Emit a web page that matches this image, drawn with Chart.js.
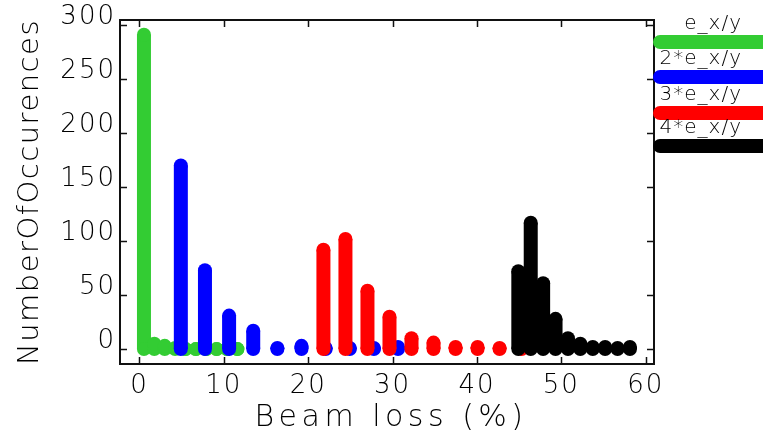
<!DOCTYPE html>
<html>
<head>
<title>Beam loss</title>
<script src="https://cdn.jsdelivr.net/npm/chart.js"></script>
<style>
  html, body { margin: 0; padding: 0; background: #fff; }
</style>
</head>
<body>
<canvas id="lossChart" width="763" height="438"></canvas>
<script>
// bin centres (beam loss, %) and number of occurences per emittance setting
const binsE1 = [0.53, 1.76, 2.99, 4.22, 5.45, 6.68, 7.91, 9.14, 10.37, 11.60];
const countsE1 = [291, 5, 3, 1, 0, 0, 0, 0, 0, 0];

const binsE2 = [4.90, 7.76, 10.62, 13.48, 16.34, 19.20, 22.06, 24.92, 27.78, 30.64];
const countsE2 = [170, 73, 31, 17, 1, 3, 1, 1, 1, 2];

const binsE3 = [21.80, 24.41, 27.02, 29.63, 32.24, 34.85, 37.46, 40.07, 42.68, 45.29];
const countsE3 = [92, 102, 54, 30, 10, 6, 2, 2, 1, 1];

const binsE4 = [44.90, 46.37, 47.84, 49.31, 50.78, 52.25, 53.72, 55.19, 56.66, 58.13];
const countsE4 = [72, 117, 61, 28, 10, 5, 2, 2, 1, 2];

const seriesLabels = ['e_x/y', '2*e_x/y', '3*e_x/y', '4*e_x/y'];
const seriesColors = ['#33cc33', '#0000ff', '#ff0000', '#000000'];

const xTicks = [0, 10, 20, 30, 40, 50, 60];
const yTicks = [0, 50, 100, 150, 200, 250, 300];
const xTitle = 'Beam loss (%)';
const yTitle = 'NumberOfOccurences';

const FONT = "'DejaVu Sans', sans-serif";

// every bin becomes a vertical stroke from 0 up to its count, then a gap
function impulses(bins, counts) {
  const pts = [];
  bins.forEach((b, i) => {
    pts.push({x: b, y: 0}, {x: b, y: counts[i]}, {x: b, y: null});
  });
  return pts;
}

function series(i, bins, counts) {
  const c = seriesColors[i];
  return {
    label: seriesLabels[i],
    data: impulses(bins, counts),
    borderColor: c,
    backgroundColor: c,
    borderWidth: 14,
    borderCapStyle: 'butt',
    pointRadius: 7,
    pointHoverRadius: 7,
    pointBorderWidth: 0,
    pointBackgroundColor: c,
    tension: 0,
    fill: false,
    spanGaps: false,
    order: 4 - i   // later settings are drawn over earlier ones
  };
}

// box around the plot with inward ticks on all four sides
const framePlugin = {
  id: 'frame',
  beforeDraw(chart) {
    chart.ctx.letterSpacing = '2px';
  },
  beforeDatasetsDraw(chart) {
    const {ctx, chartArea: a, scales} = chart;
    ctx.save();
    ctx.strokeStyle = '#111';
    ctx.lineWidth = 2;
    ctx.strokeRect(a.left, a.top, a.right - a.left, a.bottom - a.top);
    ctx.lineWidth = 1.5;
    ctx.beginPath();
    xTicks.forEach(v => {
      const px = Math.round(scales.x.getPixelForValue(v)) + 0.5;
      ctx.moveTo(px, a.bottom); ctx.lineTo(px, a.bottom - 7);
      ctx.moveTo(px, a.top); ctx.lineTo(px, a.top + 7);
    });
    yTicks.forEach(v => {
      const py = Math.round(scales.y.getPixelForValue(v)) + 0.5;
      ctx.moveTo(a.left, py); ctx.lineTo(a.left + 7, py);
      ctx.moveTo(a.right, py); ctx.lineTo(a.right - 7, py);
    });
    ctx.stroke();
    ctx.restore();
  },
  afterDraw(chart) {
    const {ctx, chartArea: a} = chart;
    ctx.save();
    ctx.fillStyle = '#000';
    ctx.textAlign = 'center';
    ctx.textBaseline = 'middle';

    // axis titles
    ctx.font = '200 30px ' + FONT;
    ctx.letterSpacing = '4.5px';
    ctx.fillText(xTitle, (a.left + a.right) / 2 + 4, 418);
    ctx.save();
    ctx.translate(30, (a.top + a.bottom) / 2);
    ctx.rotate(-Math.PI / 2);
    ctx.font = '200 29px ' + FONT;
    ctx.letterSpacing = '1.5px';
    ctx.fillText(yTitle, 0, 0);
    ctx.restore();

    // legend: name above a thick stroke in the series colour
    const rows = [42, 77, 113, 146];
    ctx.font = '200 20px ' + FONT;
    ctx.letterSpacing = '1px';
    ctx.textAlign = 'right';
    chart.data.datasets.forEach((ds, i) => {
      ctx.fillStyle = '#000';
      ctx.fillText(ds.label, 742, rows[i] - 18);
      ctx.strokeStyle = ds.borderColor;
      ctx.lineWidth = 14;
      ctx.lineCap = 'round';
      ctx.beginPath();
      ctx.moveTo(660, rows[i]);
      ctx.lineTo(800, rows[i]);
      ctx.stroke();
    });
    ctx.restore();
  }
};

const tickFont = {family: FONT, size: 26, weight: '200'};

new Chart(document.getElementById('lossChart').getContext('2d'), {
  type: 'line',
  data: {
    datasets: [
      series(0, binsE1, countsE1),
      series(1, binsE2, countsE2),
      series(2, binsE3, countsE3),
      series(3, binsE4, countsE4)
    ]
  },
  options: {
    responsive: false,
    animation: false,
    events: [],
    layout: {padding: {left: 0, top: 20, right: 109, bottom: 0}},
    plugins: {legend: {display: false}, tooltip: {enabled: false}},
    scales: {
      x: {
        type: 'linear',
        min: -2.31,
        max: 60.98,
        grid: {display: false, drawTicks: false},
        border: {display: false},
        afterBuildTicks: s => { s.ticks = xTicks.map(v => ({value: v})); },
        afterFit: s => { s.height = 74; },
        ticks: {padding: 7, font: tickFont, color: '#000', maxRotation: 0, autoSkip: false}
      },
      y: {
        type: 'linear',
        min: -13.8,
        max: 304.6,
        grid: {display: false, drawTicks: false},
        border: {display: false},
        afterBuildTicks: s => { s.ticks = yTicks.map(v => ({value: v})); },
        afterFit: s => { s.width = 120; },
        ticks: {padding: 4, labelOffset: -8, font: tickFont, color: '#000', autoSkip: false}
      }
    }
  },
  plugins: [framePlugin]
});
</script>
</body>
</html>
